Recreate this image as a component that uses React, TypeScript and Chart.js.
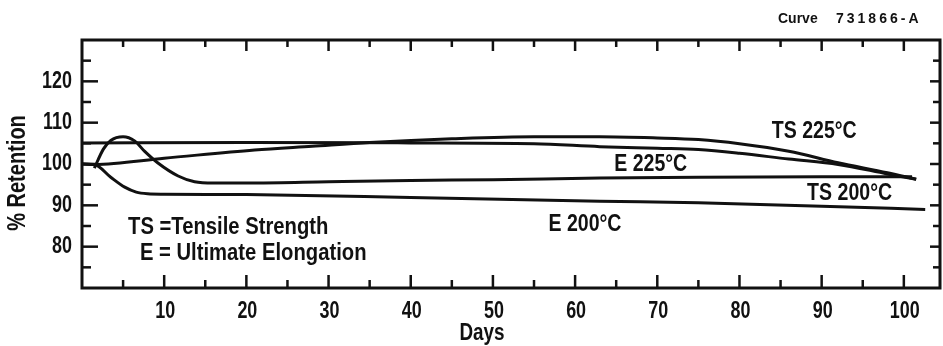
import React, { useEffect, useRef } from "react";
import { Chart, registerables } from "chart.js";

Chart.register(...registerables);

// Tensile strength at 225 °C
const ts225Days = [0, 1.5, 10, 21, 28, 35, 45, 55, 63, 70, 75, 80, 86, 92, 98, 101.5];
const ts225Values = [100, 99.9, 101.4, 103.4, 104.3, 105.2, 106.1, 106.6, 106.6, 106.3, 105.9, 104.9, 103.1, 100.3, 97.9, 96.3];

// Ultimate elongation at 225 °C
const e225Days = [0, 20, 40, 55, 63, 70, 75, 80, 86, 92, 98, 101.5];
const e225Values = [105.1, 105.2, 105.1, 104.9, 104.2, 103.8, 103.5, 102.6, 101.2, 99.9, 97.6, 96.3];

// Tensile strength at 200 °C
const ts200Days = [1.5, 2.6, 3.5, 5, 6.4, 7.6, 9.2, 11.7, 13.7, 16, 21, 30, 40, 50, 63, 75, 90, 101];
const ts200Values = [99.0, 103.6, 105.7, 106.6, 105.6, 103.1, 100.3, 97.1, 95.7, 95.4, 95.4, 95.7, 96.0, 96.2, 96.6, 96.8, 96.9, 96.9];

// Ultimate elongation at 200 °C
const e200Days = [0, 1.5, 3.5, 5.2, 6.6, 8, 10, 20, 40, 63, 75, 90, 102.6];
const e200Values = [100, 99.9, 96.8, 94.4, 93.2, 92.8, 92.7, 92.6, 91.9, 91.0, 90.6, 89.8, 89.0];

// Axis ticks
const xMajorTicks = [10, 20, 30, 40, 50, 60, 70, 80, 90, 100];
const xMinorTicks = [5, 15, 25, 35, 45, 55, 65, 75, 85, 95];
const yMajorTicks = [80, 90, 100, 110, 120];
const yMinorTicks = [75, 85, 95, 105, 115, 125];

// Text placed on the plot, anchored in data units (day, % retention)
const curveLabels = [
  { text: "TS 225°C", day: 89.1, value: 107.8 },
  { text: "E 225°C", day: 69.2, value: 99.9 },
  { text: "TS 200°C", day: 93.4, value: 92.9 },
  { text: "E 200°C", day: 61.2, value: 85.4 },
];
const keyLines = [
  { text: "TS =Tensile Strength", day: 5.6, value: 84.7 },
  { text: "E = Ultimate Elongation", day: 7.05, value: 78.2 },
];

const FAMILY = '"Liberation Sans", Arial, sans-serif';
const INK = "#111";

function pts(days: number[], values: number[]) {
  return days.map((d, i) => ({ x: d, y: values[i] }));
}

function squeezedText(
  ctx: CanvasRenderingContext2D,
  text: string,
  x: number,
  y: number,
  size: number,
  squeeze: number,
  align: CanvasTextAlign,
  rotate = 0
) {
  ctx.save();
  ctx.font = `bold ${size}px ${FAMILY}`;
  ctx.fillStyle = INK;
  ctx.textAlign = align;
  ctx.textBaseline = "middle";
  ctx.translate(x, y);
  if (rotate) ctx.rotate(rotate);
  ctx.scale(squeeze, 1);
  ctx.fillText(text, 0, 0);
  ctx.restore();
}

const framePlugin = {
  id: "frameAndText",
  beforeDatasetsDraw(chart: any) {
    const { ctx, chartArea: a, scales } = chart;
    const xs = scales.x;
    const ys = scales.y;
    ctx.save();
    ctx.strokeStyle = INK;
    ctx.lineCap = "butt";
    // frame
    ctx.lineWidth = 3;
    ctx.strokeRect(a.left, a.top, a.right - a.left, a.bottom - a.top);
    // inward tick marks
    ctx.lineWidth = 2.5;
    const tick = (x1: number, y1: number, x2: number, y2: number) => {
      ctx.beginPath();
      ctx.moveTo(x1, y1);
      ctx.lineTo(x2, y2);
      ctx.stroke();
    };
    xMajorTicks.forEach((d) => {
      const px = xs.getPixelForValue(d);
      tick(px, a.bottom, px, a.bottom - 13);
      tick(px, a.top, px, a.top + 11);
    });
    xMinorTicks.forEach((d) => {
      const px = xs.getPixelForValue(d);
      tick(px, a.bottom, px, a.bottom - 8);
      tick(px, a.top, px, a.top + 7);
    });
    yMajorTicks.forEach((v) => {
      const py = ys.getPixelForValue(v);
      tick(a.left, py, a.left + 16, py);
      tick(a.right, py, a.right - 10, py);
    });
    yMinorTicks.forEach((v) => {
      const py = ys.getPixelForValue(v);
      tick(a.left, py, a.left + 9, py);
      tick(a.right, py, a.right - 7, py);
    });
    ctx.restore();
  },
  afterDraw(chart: any) {
    const { ctx, chartArea: a, scales } = chart;
    const xs = scales.x;
    const ys = scales.y;
    // tick labels
    xMajorTicks.forEach((d) => {
      squeezedText(ctx, String(d), xs.getPixelForValue(d) + 1, 312, 23, 0.78, "center");
    });
    yMajorTicks.forEach((v) => {
      squeezedText(ctx, String(v), a.left - 10, ys.getPixelForValue(v), 23, 0.78, "right");
    });
    // axis titles
    squeezedText(ctx, "Days", 482, 334, 23, 0.82, "center");
    squeezedText(ctx, "% Retention", 18, 173, 26, 0.77, "center", -Math.PI / 2);
    // curve labels
    curveLabels.forEach((l) => {
      squeezedText(ctx, l.text, xs.getPixelForValue(l.day), ys.getPixelForValue(l.value), 23, 0.85, "center");
    });
    keyLines.forEach((l) => {
      squeezedText(ctx, l.text, xs.getPixelForValue(l.day), ys.getPixelForValue(l.value), 23, 0.88, "left");
    });
    // drawing number
    ctx.save();
    ctx.font = `bold 14px ${FAMILY}`;
    ctx.fillStyle = INK;
    ctx.textBaseline = "middle";
    ctx.textAlign = "left";
    ctx.fillText("Curve", 778, 19);
    (ctx as any).letterSpacing = "3px";
    ctx.fillText("731866-A", 836, 19);
    ctx.restore();
  },
};

export default function App() {
  const canvasRef = useRef<HTMLCanvasElement | null>(null);

  useEffect(() => {
    const canvas = canvasRef.current;
    if (!canvas) return;
    const line = (days: number[], values: number[]) => ({
      data: pts(days, values),
      borderColor: INK,
      borderWidth: 3,
      pointRadius: 0,
      fill: false,
      cubicInterpolationMode: "monotone" as const,
    });
    const chart = new Chart(canvas, {
      type: "line",
      data: {
        datasets: [
          line(ts225Days, ts225Values),
          line(e225Days, e225Values),
          line(ts200Days, ts200Values),
          line(e200Days, e200Values),
        ],
      },
      options: {
        animation: false,
        responsive: false,
        maintainAspectRatio: false,
        devicePixelRatio: 1,
        layout: { padding: { left: 82, right: 3, top: 40, bottom: 58 } },
        scales: {
          x: { type: "linear", min: 0, max: 104.4, display: false },
          y: { type: "linear", min: 70, max: 130, display: false },
        },
        plugins: {
          legend: { display: false },
          tooltip: { enabled: false },
        },
      },
      plugins: [framePlugin],
    });
    return () => chart.destroy();
  }, []);

  return (
    <div style={{ position: "fixed", left: 0, top: 0, width: 943, height: 346, background: "#fff" }}>
      <canvas ref={canvasRef} width={943} height={346} style={{ display: "block" }} />
    </div>
  );
}
